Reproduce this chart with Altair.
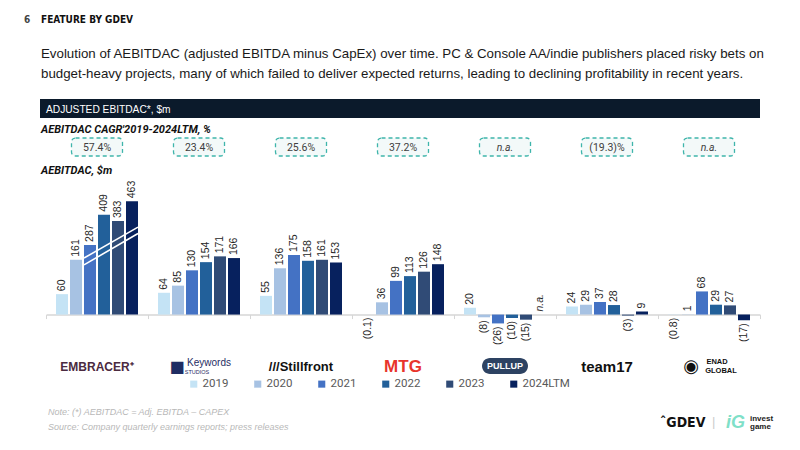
import altair as alt
import pandas as pd

# ---------------- data ----------------
companies = ["EMBRACER", "KEYWORDS", "STILLFRONT", "MTG", "PULLUP", "TEAM17", "ENAD GLOBAL 7"]
years = ["2019", "2020", "2021", "2022", "2023", "2024LTM"]
embracer = [60, 161, 287, 409, 383, 463]
keywords = [64, 85, 130, 154, 171, 166]
stillfront = [55, 136, 175, 158, 161, 153]
mtg = [-0.1, 36, 99, 113, 126, 148]
pullup = [20, -8, -26, -10, -15, None]
team17 = [24, 29, 37, 28, -3, 9]
enad = [-0.8, 1, 68, 29, 27, -17]
cagr = ["57.4%", "23.4%", "25.6%", "37.2%", "n.a.", "(19.3)%", "n.a."]
colors = ["#c4e3f5", "#a7c2e3", "#4472c4", "#22609a", "#304b76", "#07215e"]

series = [embracer, keywords, stillfront, mtg, pullup, team17, enad]


def fmt(v):
    if v is None:
        return "n.a."
    if v < 0:
        return "(%s)" % (("%g" % abs(v)))
    return "%g" % v


rows = []
for c, vals in zip(companies, series):
    for y, v in zip(years, vals):
        rows.append({"company": c, "year": y, "value": v, "label": fmt(v)})
df = pd.DataFrame(rows)

cagr_df = pd.DataFrame({"company": companies, "cagr": cagr})

W, H = 714, 160
YDOM = [-60, 410]
FONT = "Roboto"
COND = "DejaVu Sans Condensed, DejaVu Sans"

xenc = alt.X("company:N", sort=companies, axis=alt.Axis(
    title=None, labels=False, domainColor="#d6d6d6", domainWidth=1.5,
    tickColor="#d6d6d6", tickSize=4, tickBand="extent", offset=-20.43),
    scale=alt.Scale(paddingInner=0, paddingOuter=0))
yscale = alt.Scale(domain=YDOM, nice=False, zero=True)

base = alt.Chart(df).transform_calculate(
    # broken axis for Embracer's largest bars (drawn compressed, as in the source)
    drawn="datum.company == 'EMBRACER' && datum.value > 200 ? 0.73 * datum.value - 5 : datum.value"
)

bars = base.mark_bar().encode(
    x=xenc,
    xOffset=alt.XOffset("year:N", sort=years,
                        scale=alt.Scale(paddingInner=0.143, paddingOuter=0.714)),
    y=alt.Y("drawn:Q", scale=yscale, axis=None),
    color=alt.Color("year:N", sort=years,
                    scale=alt.Scale(domain=years, range=colors),
                    legend=alt.Legend(title=None, orient="none", direction="horizontal",
                                      legendX=142, legendY=203, symbolType="square",
                                      symbolSize=50, symbolStrokeWidth=0, labelFont=FONT,
                                      labelFontSize=11.5, labelColor="#595959",
                                      columnPadding=23, padding=0, labelOffset=3)),
)

lab_common = dict(angle=270, baseline="middle", font="Liberation Sans", fontSize=10.5, color="#262626")
pos_labels = base.transform_filter("datum.value >= 1").mark_text(align="left", dx=3, **lab_common).encode(
    x=alt.X("company:N", sort=companies),
    xOffset=alt.XOffset("year:N", sort=years),
    y=alt.Y("drawn:Q", scale=yscale),
    text="label:N",
)
neg_labels = base.transform_filter("datum.value != null && datum.value < 1").mark_text(
    align="right", dx=-3, **lab_common).encode(
    x=alt.X("company:N", sort=companies),
    xOffset=alt.XOffset("year:N", sort=years),
    y=alt.Y("drawn:Q", scale=yscale),
    text="label:N",
)
na_labels = alt.Chart(df).transform_filter("datum.value == null").mark_text(
    align="left", dx=3, fontStyle="italic", **lab_common).encode(
    x=alt.X("company:N", sort=companies),
    xOffset=alt.XOffset("year:N", sort=years),
    y=alt.datum(0, scale=yscale),
    text="label:N",
)

# axis break marks on Embracer bars
brk = pd.DataFrame({"a": [166, 146], "b": [257, 238]})
breaks = alt.Chart(brk).mark_rule(color="white", strokeWidth=1.6).encode(
    x=alt.value(38), x2=alt.value(92),
    y=alt.Y("a:Q", scale=yscale), y2="b:Q")

# CAGR boxes
boxes = alt.Chart(cagr_df).mark_bar(size=51, cornerRadius=4, fill="#f3f9f9", stroke="#3fb5ab",
                                    strokeDash=[4, 3], strokeWidth=1.3).encode(
    x=alt.X("company:N", sort=companies), y=alt.value(-37), y2=alt.value(-19))
cagr_txt = alt.Chart(cagr_df).transform_filter("datum.cagr != 'n.a.'").mark_text(
    font=FONT, fontSize=10.5, color="#404040", baseline="alphabetic").encode(
    x=alt.X("company:N", sort=companies), y=alt.value(-24), text="cagr:N")
cagr_na = alt.Chart(cagr_df).transform_filter("datum.cagr == 'n.a.'").mark_text(
    font=FONT, fontSize=10.5, color="#404040", fontStyle="italic", baseline="alphabetic").encode(
    x=alt.X("company:N", sort=companies), y=alt.value(-24), text="cagr:N")


def txt(t, x, y, **kw):
    props = dict(align="left", baseline="alphabetic")
    props.update(kw)
    return alt.Chart(pd.DataFrame({"t": [t]})).mark_text(**props).encode(
        x=alt.value(x), y=alt.value(y), text="t:N")


def logo(t, company, y, dx=0, **kw):
    props = dict(align="center", baseline="middle", dx=dx)
    props.update(kw)
    return alt.Chart(pd.DataFrame({"t": [t]})).mark_text(**props).encode(
        x=alt.datum(company), y=alt.value(y), text="t:N")


header_rect = alt.Chart(pd.DataFrame({"a": [0]})).mark_rect(color="#0b1a2b").encode(
    x=alt.value(-6), x2=alt.value(714), y=alt.value(-76), y2=alt.value(-57))

pill = alt.Chart(pd.DataFrame({"company": ["PULLUP"]})).mark_bar(
    size=46, cornerRadius=8, color="#2d4262").encode(
    x=alt.X("company:N", sort=companies), y=alt.value(183), y2=alt.value(199))

texts = [
    txt("6", -22, -152, font=COND, fontWeight="bold", fontSize=10, color="#444444"),
    txt("FEATURE BY GDEV", -5, -152, font=COND, fontWeight="bold", fontSize=10, color="#111111"),
    txt("Evolution of AEBITDAC (adjusted EBITDA minus CapEx) over time. PC & Console AA/indie publishers placed risky bets on",
        -5, -117, font="Liberation Sans", fontSize=13.3, color="#1a1a1a"),
    txt("budget-heavy projects, many of which failed to deliver expected returns, leading to declining profitability in recent years.",
        -5, -97, font="Liberation Sans", fontSize=13.3, color="#1a1a1a"),
    txt("ADJUSTED EBITDAC*, $m", 0, -62, font="Liberation Sans", fontSize=10.2, color="white"),
    txt("AEBITDAC CAGR'2019-2024LTM, %", -5, -42, font=FONT, fontSize=11, fontWeight="bold", fontStyle="italic", color="#111111"),
    txt("AEBITDAC, $m", -5, -1, font=FONT, fontSize=11, fontWeight="bold", fontStyle="italic", color="#111111"),
    txt("Note: (*) AEBITDAC = Adj. EBITDA \u2013 CAPEX", 2, 240, font="Liberation Sans", fontSize=9, fontStyle="italic", color="#b8b8b8"),
    txt("Source: Company quarterly earnings reports; press releases", 2, 255, font="Liberation Sans", fontSize=9, fontStyle="italic", color="#b8b8b8"),
    txt("\u02c6GDEV", 614, 252, font=COND, fontWeight="bold", fontSize=14, color="#111111"),
    txt("|", 666, 251, font="Liberation Sans", fontSize=13, color="#cccccc"),
    txt("iG", 680, 253, font="Liberation Sans", fontWeight="bold", fontStyle="italic", fontSize=18, color="#7fe0c8"),
    txt("invest", 704, 246, font="Liberation Sans", fontWeight="bold", fontSize=8, color="#222222"),
    txt("game", 704, 254, font="Liberation Sans", fontWeight="bold", fontSize=8, color="#222222"),
]

logos = [
    logo("EMBRACER\u207a", "EMBRACER", 192, font="Liberation Sans", fontWeight="bold", fontSize=12, color="#4b2a40"),
    logo("\u25a0", "KEYWORDS", 192, dx=-22, font="DejaVu Sans", fontSize=16, color="#1f2d63"),
    logo("Keywords", "KEYWORDS", 188, dx=10, font="Liberation Sans", fontSize=10, color="#1f2d63"),
    logo("STUDIOS", "KEYWORDS", 197, dx=-2, font="Liberation Sans", fontSize=5.5, color="#1f2d63"),
    logo("///Stillfront", "STILLFRONT", 192, font="Liberation Sans", fontWeight="bold", fontSize=13, color="#111111"),
    logo("MTG", "MTG", 192, font="Liberation Sans", fontWeight="bold", fontSize=17, color="#e8342c"),
    logo("PULLUP", "PULLUP", 191, font="Liberation Sans", fontWeight="bold", fontSize=9, color="white"),
    logo("team17", "TEAM17", 192, font="Liberation Sans", fontWeight="bold", fontSize=15, color="#111111"),
    logo("\u25c9", "ENAD GLOBAL 7", 192, dx=-18, font="DejaVu Sans", fontSize=18, color="#111111"),
    logo("ENAD", "ENAD GLOBAL 7", 187, dx=8, font="Liberation Sans", fontWeight="bold", fontSize=7.5, color="#111111"),
    logo("GLOBAL", "ENAD GLOBAL 7", 196, dx=12, font="Liberation Sans", fontWeight="bold", fontSize=7.5, color="#111111"),
]

chart = alt.layer(
    header_rect, boxes, cagr_txt, cagr_na, bars, breaks, pos_labels, neg_labels, na_labels, pill,
    *logos, *texts
).properties(
    width=W, height=H,
    autosize=alt.AutoSizeParams(type="none"),
    padding={"left": 46, "top": 175, "right": 40, "bottom": 115},
    background="white",
).configure_view(stroke=None)

chart.save("out.html", embed_options={"renderer": "svg", "actions": False})
